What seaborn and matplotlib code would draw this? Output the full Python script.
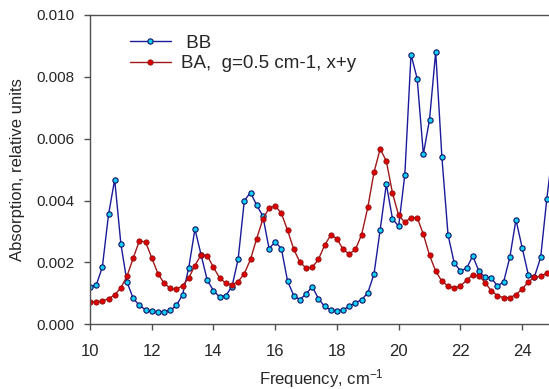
import matplotlib
matplotlib.use("Agg")
import matplotlib.pyplot as plt
import seaborn as sns
import pandas as pd
from matplotlib.ticker import FormatStrFormatter

# ---- data (absorption in units of 1e-3) ----
freq = [10.0, 10.2, 10.4, 10.6, 10.8, 11.0, 11.2, 11.4, 11.6, 11.8,
        12.0, 12.2, 12.4, 12.6, 12.8, 13.0, 13.2, 13.4, 13.6, 13.8,
        14.0, 14.2, 14.4, 14.6, 14.8, 15.0, 15.2, 15.4, 15.6, 15.8,
        16.0, 16.2, 16.4, 16.6, 16.8, 17.0, 17.2, 17.4, 17.6, 17.8,
        18.0, 18.2, 18.4, 18.6, 18.8, 19.0, 19.2, 19.4, 19.6, 19.8,
        20.0, 20.2, 20.4, 20.6, 20.8, 21.0, 21.2, 21.4, 21.6, 21.8,
        22.0, 22.2, 22.4, 22.6, 22.8, 23.0, 23.2, 23.4, 23.6, 23.8,
        24.0, 24.2, 24.4, 24.6, 24.8, 25.0]

bb = [1.22, 1.26, 1.85, 3.55, 4.68, 2.60, 1.36, 0.84, 0.61, 0.47,
      0.42, 0.39, 0.41, 0.45, 0.61, 0.96, 1.83, 3.08, 2.24, 1.42,
      1.09, 0.88, 0.93, 1.22, 2.11, 4.00, 4.26, 3.85, 3.50, 2.45,
      2.66, 2.45, 1.40, 0.93, 0.80, 0.98, 1.22, 0.83, 0.58, 0.46,
      0.44, 0.47, 0.58, 0.70, 0.79, 1.02, 1.62, 3.05, 4.53, 3.41,
      3.17, 4.84, 8.72, 7.94, 5.50, 6.62, 8.81, 5.41, 2.89, 1.98,
      1.73, 1.81, 2.21, 1.72, 1.52, 1.50, 1.24, 1.37, 2.16, 3.38,
      2.48, 1.60, 1.54, 2.16, 4.06, 5.70]

ba = [0.73, 0.73, 0.75, 0.83, 0.95, 1.18, 1.56, 2.14, 2.70, 2.66,
      2.15, 1.64, 1.33, 1.16, 1.13, 1.25, 1.50, 1.90, 2.25, 2.22,
      1.84, 1.50, 1.33, 1.27, 1.38, 1.64, 2.10, 2.77, 3.40, 3.76,
      3.83, 3.59, 3.04, 2.43, 2.01, 1.82, 1.84, 2.10, 2.55, 2.89,
      2.77, 2.42, 2.27, 2.42, 2.90, 3.78, 4.91, 5.67, 5.28, 4.24,
      3.52, 3.30, 3.45, 3.45, 2.91, 2.23, 1.72, 1.39, 1.24, 1.17,
      1.24, 1.42, 1.61, 1.57, 1.35, 1.08, 0.93, 0.86, 0.86, 0.96,
      1.14, 1.37, 1.52, 1.55, 1.65, 1.70]

label_bb = " BB"
label_ba = "BA,  g=0.5 cm-1, x+y"
x_ticks = [10, 12, 14, 16, 18, 20, 22, 24]
y_ticks = [0.000, 0.002, 0.004, 0.006, 0.008, 0.010]

df = pd.DataFrame({"freq": freq,
                   "bb": [v * 1e-3 for v in bb],
                   "ba": [v * 1e-3 for v in ba]})

sns.set_style("ticks")
plt.rcParams["font.family"] = ["Liberation Sans", "DejaVu Sans"]
plt.rcParams["mathtext.default"] = "regular"

W, H = 549, 389
fig = plt.figure(figsize=(W / 100, H / 100), dpi=100)
x0, x1 = 90, 553
y0, y1 = 324.3, 15
ax = fig.add_axes([x0 / W, (H - y0) / H, (x1 - x0) / W, (y0 - y1) / H])

sns.lineplot(data=df, x="freq", y="bb", ax=ax, color="#1a1a9a", lw=1.0,
             marker="o", markersize=3.8, markerfacecolor="#10d0f0",
             markeredgecolor="#10106a", markeredgewidth=0.8, label=label_bb)
sns.lineplot(data=df, x="freq", y="ba", ax=ax, color="#a01818", lw=1.0,
             marker="o", markersize=3.8, markerfacecolor="#dd0000",
             markeredgecolor="#901010", markeredgewidth=0.6, label=label_ba)

ax.set_xlim(10, 25)
ax.set_ylim(0, 0.010)
ax.set_xticks(x_ticks)
ax.set_yticks(y_ticks)
ax.yaxis.set_major_formatter(FormatStrFormatter("%.3f"))

spine_c = "#505050"
for s in ["left", "bottom", "top"]:
    ax.spines[s].set_color(spine_c)
    ax.spines[s].set_linewidth(1.0)
ax.spines["right"].set_visible(False)
ax.tick_params(axis="both", direction="out", length=4, width=1.0, color=spine_c)
ax.tick_params(axis="x", labelsize=12, pad=10)
ax.tick_params(axis="y", labelsize=11, pad=7)

ax.set_xlabel("Frequency, cm$^{-1}$", fontsize=12, labelpad=6)
ax.set_ylabel("Absorption, relative units", fontsize=12, labelpad=8)

leg = ax.legend(loc="upper left", bbox_to_anchor=(122 / W, (H - 27) / H),
                bbox_transform=fig.transFigure, frameon=False, fontsize=13.5,
                handlelength=2.2, handletextpad=0.55, labelspacing=0.2,
                borderaxespad=0)

fig.savefig("out.png", dpi=100)
